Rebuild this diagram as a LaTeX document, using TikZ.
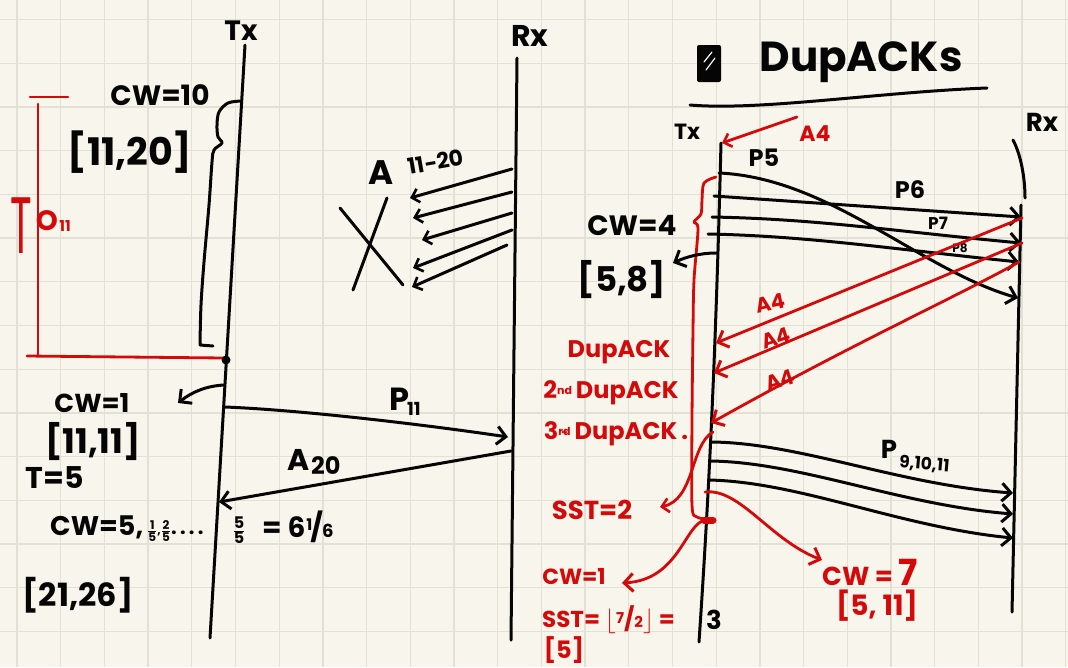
\documentclass[tikz,border=0pt]{standalone}
\usepackage{fontspec}
\setmainfont{Poppins}
\usetikzlibrary{arrows.meta}
\definecolor{paper}{HTML}{F8F6EC}
\definecolor{gridc}{HTML}{E3E1D5}
\definecolor{ink}{HTML}{050505}
\definecolor{redink}{HTML}{D40A0A}
\tikzset{
 inkline/.style={line width=3pt,line cap=round,line join=round,draw=ink},
 redline/.style={line width=2.8pt,line cap=round,line join=round,draw=redink},
 barb/.style={-{Straight Barb[length=9pt,width=18pt,line width=3pt]}},
 sbarb/.style={-{Straight Barb[length=7pt,width=14pt,line width=2.6pt]}},
 txt/.style={inner sep=0pt,text=ink,font=\bfseries\fontsize{#1}{#1}\selectfont},
 txt/.default=28,
 rtxt/.style={inner sep=0pt,text=redink,font=\bfseries\fontsize{#1}{#1}\selectfont},
 rtxt/.default=26,
}
\newcommand{\hwfrac}[2]{$\frac{\mbox{#1}}{\mbox{#2}}$}
\begin{document}
\begin{tikzpicture}[x=1pt,y=-1pt]
\path[use as bounding box, fill=paper] (0,0) rectangle (1068,667);
\foreach \i in {0,...,24} \draw[gridc,line width=1.3pt] ({17+43.7*\i},0) -- ({17+43.7*\i},667);
\foreach \j in {0,...,14} \draw[gridc,line width=1.3pt] (0,{19.6+43.7*\j}) -- (1068,{19.6+43.7*\j});

% ================= LEFT DIAGRAM =================
\node[txt=28] (txA) at (241,31) {Tx};
\node[txt=30] (rxA) at (530,36) {Rx};
\coordinate (txAtop) at (245,45);
\coordinate (txAbot) at (210,638);
\draw[inkline] (txAtop) -- (txAbot);
\coordinate (rxAtop) at (517,58);
\coordinate (rxAbot) at (511,640);
\draw[inkline] (rxAtop) -- (rxAbot);

\node[txt=28] (cw10) at (160,95) {CW=10};
\node[txt=38] (w1120) at (130,152) {[11,20]};
\draw[inkline] plot[smooth,tension=0.55] coordinates {(241,101) (228,103) (219,112) (217,125) (218,137) (222,143) (214,150) (212,162) (209,205) (204,262) (201,305) (200,345)} -- (213,346);

% red timeout
\coordinate (toA) at (30,97);
\coordinate (toB) at (68,97);
\coordinate (toC) at (38,104);
\coordinate (toD) at (38,355);
\coordinate (toE) at (27,356);
\coordinate (toF) at (224,358);
\draw[redline] (toA) -- (toB);
\draw[redline] (toC) -- (toD);
\draw[redline] (toE) -- (toF);
\node[rtxt=80,font=\mdseries\fontsize{80}{80}\selectfont] (toT) at (21,226) {\scalebox{0.5}[1]{T}};
\node[rtxt=28] (toO) at (47,221) {O};
\node[rtxt=15] (to11) at (65,226) {11};
\coordinate (dotA) at (226,360);
\fill[ink] (dotA) circle (4.5);

\node[txt=26] (cw1) at (92,403) {CW=1};
\coordinate (cw1s) at (224,385);
\coordinate (cw1e) at (178,403);
\draw[inkline,barb] (cw1s) .. controls (206,386) and (192,392) .. (cw1e);
\node[txt=34] (w1111) at (93,442) {[11,11]};
\node[txt=30] (tau5) at (55,478) {T=5};

% P11 and A20
\coordinate (p11s) at (225,407);
\coordinate (p11e) at (508,437);
\draw[inkline,barb] (p11s) .. controls (300,410) and (420,424) .. (p11e);
\node[txt=32] (p11P) at (399,399) {P};
\node[txt=18,anchor=west] (p11n) at (407,409) {11};
\coordinate (a20s) at (511,451);
\coordinate (a20e) at (219,502);
\draw[inkline,barb] (a20s) -- (a20e);
\node[txt=30] (a20A) at (299,460) {A};
\node[txt=24,anchor=west] (a20n) at (311,466) {20};

% A11-20 lost acks
\foreach \n/\sx/\sy/\ex/\ey in {1/512/169/410/198, 2/512/192/413/218, 3/512/213/422/240, 4/512/230/413/268, 5/507/245/412/287}{
  \coordinate (ak\n s) at (\sx,\sy);
  \coordinate (ak\n e) at (\ex,\ey);
  \draw[inkline,sbarb] (ak\n s) -- (ak\n e);
}
\node[txt=34] (akA) at (381,173) {A};
\node[txt=22,rotate=10] (akn) at (436,162) {11-20};
\coordinate (xa1) at (340,208);
\coordinate (xb1) at (403,285);
\coordinate (xa2) at (387,198);
\coordinate (xb2) at (353,290);
\draw[inkline] (xa1) -- (xb1);
\draw[inkline] (xa2) -- (xb2);

% CW = 5 ... line
\node[txt=27,anchor=west] (cw5) at (50,527) {CW=5,};
\node[txt=12,anchor=west] (cw5f) at (147,531) {\hwfrac{1}{5},\hwfrac{2}{5}\fontsize{20}{20}\selectfont.\,.\,.\,.};
\node[txt=16] (cw5g) at (239,530) {\hwfrac{5}{5}};
\node[txt=28,anchor=west] (cw5h) at (262,527) {= 6\kern1pt\raisebox{7pt}{\fontsize{16}{16}\selectfont 1}\kern-2pt/\kern-1pt{\fontsize{18}{18}\selectfont 6}};
\node[txt=32] (w2126) at (78,595) {[21,26]};

% ================= RIGHT DIAGRAM =================
\coordinate (icA) at (697,45);
\coordinate (icB) at (721,82);
\fill[ink,rounded corners=2pt] (icA) rectangle (icB);
\draw[paper,line width=1.2pt,line cap=round] (704,62) -- (712,52) (706,70) -- (715,58);
\node[txt=42] (title) at (861,62) {DupACKs};
\coordinate (ulA) at (690,105);
\coordinate (ulB) at (987,88);
\draw[inkline] (ulA) .. controls (760,111) and (880,92) .. (ulB);

\node[txt=22] (txB) at (687,132) {Tx};
\node[txt=26] (rxB) at (1042,122) {Rx};
\coordinate (txBtop) at (721,143);
\coordinate (txBbot) at (699,642);
\draw[inkline] (txBtop) .. controls (717,300) and (712,450) .. (txBbot);
\coordinate (rxBarcA) at (1013,140);
\coordinate (rxBarcB) at (1025,198);
\draw[inkline] (rxBarcA) .. controls (1021,155) and (1025,178) .. (rxBarcB);
\coordinate (rxBtop) at (1021,205);
\coordinate (rxBbot) at (1012,612);
\draw[inkline] (rxBtop) -- (rxBbot);

% top red A4
\coordinate (a4ts) at (797,117);
\coordinate (a4te) at (722,143);
\draw[redline,sbarb] (a4ts) -- (a4te);
\node[rtxt=22] (a4t) at (815,134) {A4};

% packets P5..P8
\node[txt=24] (p5) at (764,158) {P5};
\coordinate (p5s) at (719,173);
\coordinate (p5e) at (1018,298);
\draw[inkline,barb] (p5s) .. controls (830,178) and (920,270) .. (p5e);
\coordinate (p6s) at (714,196);
\coordinate (p6e) at (1021,217);
\draw[inkline,barb] (p6s) -- (p6e);
\node[txt=24] (p6) at (910,190) {P6};
\coordinate (p7s) at (712,217);
\coordinate (p7e) at (1021,243);
\draw[inkline,barb] (p7s) .. controls (820,219) and (900,232) .. (p7e);
\node[txt=17] (p7) at (938,223) {P7};
\coordinate (p8s) at (708,234);
\coordinate (p8e) at (1019,262);
\draw[inkline,barb] (p8s) .. controls (810,236) and (900,250) .. (p8e);
\node[txt=12] (p8) at (960,248) {P8};

% red brace CW=4 and window
\draw[redline] plot[smooth,tension=0.5] coordinates {(716,177) (704,183) (702,200) (701,214) (694,222) (698,229) (694,280) (693,330) (692,420) (692,505) (697,517) (713,520)};
\draw[redink,line width=7pt,line cap=round] (704,520) -- (713,520);
\node[txt=28] (cw4) at (632,225) {CW=4};
\node[txt=34] (w58) at (622,280) {[5,8]};
\coordinate (w58s) at (716,253);
\coordinate (w58e) at (673,263);
\draw[inkline,barb] (w58s) .. controls (700,253) and (686,257) .. (w58e);

% red duplicate acks
\coordinate (d1s) at (1022,218);
\coordinate (d1e) at (716,343);
\draw[redline,barb] (d1s) -- (d1e);
\coordinate (d2s) at (1022,243);
\coordinate (d2e) at (714,373);
\draw[redline,barb] (d2s) -- (d2e);
\coordinate (d3s) at (1019,262);
\coordinate (d3e) at (711,423);
\draw[redline,barb] (d3s) .. controls (950,300) and (850,345) .. (d3e);
\node[rtxt=21,rotate=12] (d1l) at (770,303) {A4};
\node[rtxt=21,rotate=18] (d2l) at (776,338) {A4};
\node[rtxt=21,rotate=18] (d3l) at (780,380) {A4};

\node[rtxt=24] (dup1) at (619,352) {DupACK};
\node[rtxt=24] (dup2) at (611,393) {2\raisebox{6pt}{\fontsize{11}{11}\selectfont\shortstack{nd\\[-7pt]..}}\,DupACK};
\node[rtxt=24] (dup3) at (616,434) {3\raisebox{6pt}{\fontsize{11}{11}\selectfont\shortstack{rd\\[-7pt]..}}\,DupACK\,.};

% SST = 2
\coordinate (sst2s) at (713,432);
\coordinate (sst2e) at (660,507);
\draw[redline,sbarb] (sst2s) .. controls (690,445) and (695,500) .. (sst2e);
\node[rtxt=26] (sst2) at (592,510) {SST=2};

% P9,10,11
\coordinate (q1s) at (712,442);
\coordinate (q1e) at (1013,493);
\draw[inkline,barb] (q1s) .. controls (800,443) and (900,485) .. (q1e);
\coordinate (q2s) at (710,461);
\coordinate (q2e) at (1013,514);
\draw[inkline,barb] (q2s) .. controls (800,462) and (900,505) .. (q2e);
\coordinate (q3s) at (709,480);
\coordinate (q3e) at (1013,538);
\draw[inkline,barb] (q3s) .. controls (800,482) and (900,527) .. (q3e);
\node[txt=26] (qP) at (889,449) {P};
\node[txt=17,rotate=-5,anchor=west] (qn) at (899,462) {9,10,11};

% CW = 7
\coordinate (cw7s) at (705,492);
\coordinate (cw7e) at (822,560);
\draw[redline,barb] (cw7s) .. controls (740,488) and (770,540) .. (cw7e);
\node[rtxt=26] (cw7) at (870,572) {CW = \fontsize{36}{36}\selectfont 7};
\node[rtxt=28] (w511) at (877,606) {[5, 11]};

% CW = 1 (red)
\coordinate (cwr1s) at (706,520);
\coordinate (cwr1e) at (622,583);
\draw[redline,barb] (cwr1s) .. controls (685,522) and (680,580) .. (cwr1e);
\node[rtxt=22] (cwr1) at (574,577) {CW=1};
\node[rtxt=23,anchor=west] (sst3) at (542,620) {SST= $\lfloor$\raisebox{4pt}{\fontsize{15}{15}\selectfont 7}/{\fontsize{15}{15}\selectfont 2}$\rfloor$ =};
\node[txt=26] (three) at (714,620) {3};
\node[rtxt=24] (w5) at (564,650) {[5]};
\end{tikzpicture}
\end{document}
